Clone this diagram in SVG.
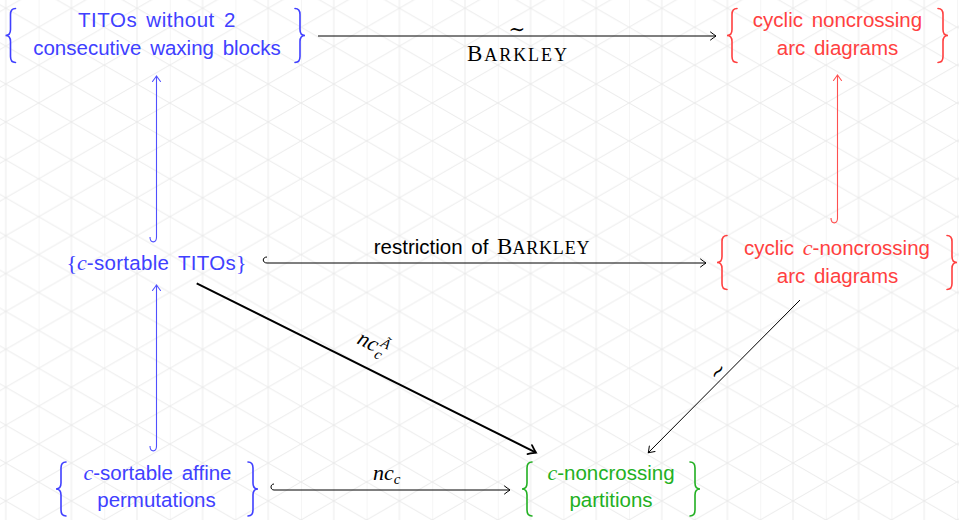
<svg xmlns="http://www.w3.org/2000/svg" width="959" height="520" viewBox="0 0 959 520">
<style>
.sans{font-family:"Liberation Sans","Arial",sans-serif;font-size:20.5px;word-spacing:3px}
.serif{font-family:"Liberation Serif","Times New Roman",serif}
.mi{font-family:"Liberation Serif","Times New Roman",serif;font-style:italic}
.tl{font-family:"DejaVu Serif",serif;font-size:20px}
.blue{fill:#4040ff}
.red{fill:#ff4040}
.green{fill:#22b022}
.blk{fill:#000}
.br{fill:none;stroke-width:1.6;stroke-linecap:round}
.conn{fill:none;stroke:#000;stroke-width:1}
</style>
<defs>
<pattern id="grid" patternUnits="userSpaceOnUse" x="38.6" y="27.2" width="65.6" height="37.9">
<path d="M0 0V37.9M32.8 0V37.9M0 0L65.6 37.9M0 -37.9L65.6 0M0 37.9L65.6 75.8M0 37.9L65.6 0M0 0L65.6 -37.9M0 75.8L65.6 37.9" stroke="#ebebeb" stroke-width="1" fill="none"/>
</pattern>
<path id="lb" d="M10 -27 Q5 -27 5 -21 L5 -6 Q5 0 0 0 Q5 0 5 6 L5 21 Q5 27 10 27"/>
<marker id="ak" markerUnits="userSpaceOnUse" markerWidth="12" markerHeight="12" viewBox="-8 -6 12 12" refX="0" refY="0" orient="auto" overflow="visible">
<path d="M-5.5 -4 Q-1.5 -1 0 0 Q-1.5 1 -5.5 4" fill="none" stroke="#000" stroke-width="1" stroke-linecap="round"/>
</marker>
<marker id="akt" markerUnits="userSpaceOnUse" markerWidth="14" markerHeight="14" viewBox="-10 -7 14 14" refX="0" refY="0" orient="auto" overflow="visible">
<path d="M-7 -5 Q-2 -1.2 0 0 Q-2 1.2 -7 5" fill="none" stroke="#000" stroke-width="1.8" stroke-linecap="round"/>
</marker>
<marker id="ab" markerUnits="userSpaceOnUse" markerWidth="12" markerHeight="12" viewBox="-8 -6 12 12" refX="0" refY="0" orient="auto" overflow="visible">
<path d="M-5.5 -4 Q-1.5 -1 0 0 Q-1.5 1 -5.5 4" fill="none" stroke="#5050ff" stroke-width="1.1" stroke-linecap="round"/>
</marker>
<marker id="ar" markerUnits="userSpaceOnUse" markerWidth="12" markerHeight="12" viewBox="-8 -6 12 12" refX="0" refY="0" orient="auto" overflow="visible">
<path d="M-5.5 -4 Q-1.5 -1 0 0 Q-1.5 1 -5.5 4" fill="none" stroke="#ff5050" stroke-width="1.1" stroke-linecap="round"/>
</marker>
</defs>
<rect width="959" height="520" fill="#fff"/>
<rect width="959" height="520" fill="url(#grid)"/>

<g id="connectors">
<path class="conn" d="M318 36 H716" marker-end="url(#ak)"/>
<text class="tl blk" x="517" y="36" text-anchor="middle">∼</text>
<text class="serif blk" x="517" y="60.5" text-anchor="middle" font-size="23" textLength="100" lengthAdjust="spacing">B<tspan font-size="18">ARKLEY</tspan></text>

<path d="M150 237 C150 243.5 156.5 243.5 156.5 237 L156.5 76" fill="none" stroke="#5050ff" stroke-width="1.1" marker-end="url(#ab)"/>
<path d="M150 446 C150 452.5 156.5 452.5 156.5 446 L156.5 285" fill="none" stroke="#5050ff" stroke-width="1.1" marker-end="url(#ab)"/>
<path d="M831 218 C831 224.5 837.5 224.5 837.5 218 L837.5 75" fill="none" stroke="#ff5050" stroke-width="1.1" marker-end="url(#ar)"/>

<path class="conn" d="M267 257 C262 257 262 263 267 263 H706" marker-end="url(#ak)"/>
<text class="blk" x="482" y="254" text-anchor="middle"><tspan class="sans">restriction of </tspan><tspan class="serif" font-size="23">B</tspan><tspan class="serif" font-size="18" letter-spacing="0.8">ARKLEY</tspan></text>

<path d="M196.7 283.3 L536 452.7" fill="none" stroke="#000" stroke-width="2" marker-end="url(#akt)"/>
<g transform="translate(372 351) rotate(26.5)">
<text class="mi blk" x="-18" y="0" font-size="22">nc</text>
<text class="mi blk" x="4" y="5" font-size="15">c</text>
<text class="serif blk" x="5" y="-8" font-size="14" font-style="italic">Ã</text>
</g>

<path class="conn" d="M800 300 L648.3 452.7" marker-end="url(#ak)"/>
<g transform="translate(719 372.5) rotate(-45)">
<text class="tl blk" x="0" y="5" text-anchor="middle">∼</text>
</g>

<path class="conn" d="M274 484 C270 484 270 490 274 490 H510" marker-end="url(#ak)"/>
<text class="blk" x="373" y="480"><tspan class="mi" font-size="22">nc</tspan><tspan class="mi" font-size="15" dy="4">c</tspan></text>
</g>

<g id="n-tito2">
<use href="#lb" x="5.5" y="35.5" class="br" stroke="#4040ff"/>
<use href="#lb" transform="translate(305 35.5) scale(-1 1)" class="br" stroke="#4040ff"/>
<text class="sans blue" x="157" y="27" text-anchor="middle" letter-spacing="0.5">TITOs without 2</text>
<text class="sans blue" x="157" y="55" text-anchor="middle">consecutive waxing blocks</text>
</g>

<g id="n-cyclic">
<use href="#lb" x="727" y="35.5" class="br" stroke="#ff4040"/>
<use href="#lb" transform="translate(948 35.5) scale(-1 1)" class="br" stroke="#ff4040"/>
<text class="sans red" x="837.5" y="27" text-anchor="middle">cyclic noncrossing</text>
<text class="sans red" x="837.5" y="55" text-anchor="middle">arc diagrams</text>
</g>

<g id="n-csort">
<text class="blue" x="156.5" y="270" text-anchor="middle"><tspan class="serif" font-size="22">{</tspan><tspan class="mi" font-size="22">c</tspan><tspan class="sans" letter-spacing="0.3">-sortable TITOs</tspan><tspan class="serif" font-size="22">}</tspan></text>
</g>

<g id="n-ccyclic">
<use href="#lb" x="717" y="262.5" class="br" stroke="#ff4040"/>
<use href="#lb" transform="translate(957 262.5) scale(-1 1)" class="br" stroke="#ff4040"/>
<text class="red" x="837" y="255" text-anchor="middle"><tspan class="sans">cyclic </tspan><tspan class="mi" font-size="22">c</tspan><tspan class="sans">-noncrossing</tspan></text>
<text class="sans red" x="837.5" y="283" text-anchor="middle">arc diagrams</text>
</g>

<g id="n-affine">
<use href="#lb" x="56" y="489" class="br" stroke="#4040ff"/>
<use href="#lb" transform="translate(258 489) scale(-1 1)" class="br" stroke="#4040ff"/>
<text class="blue" x="157.5" y="480" text-anchor="middle"><tspan class="mi" font-size="22">c</tspan><tspan class="sans">-sortable affine</tspan></text>
<text class="sans blue" x="156.5" y="507" text-anchor="middle">permutations</text>
</g>

<g id="n-ncpart">
<use href="#lb" x="522" y="489" class="br" stroke="#22b022"/>
<use href="#lb" transform="translate(700 489) scale(-1 1)" class="br" stroke="#22b022"/>
<text class="green" x="611" y="480" text-anchor="middle"><tspan class="mi" font-size="22">c</tspan><tspan class="sans">-noncrossing</tspan></text>
<text class="sans green" x="611" y="507" text-anchor="middle">partitions</text>
</g>
</svg>
